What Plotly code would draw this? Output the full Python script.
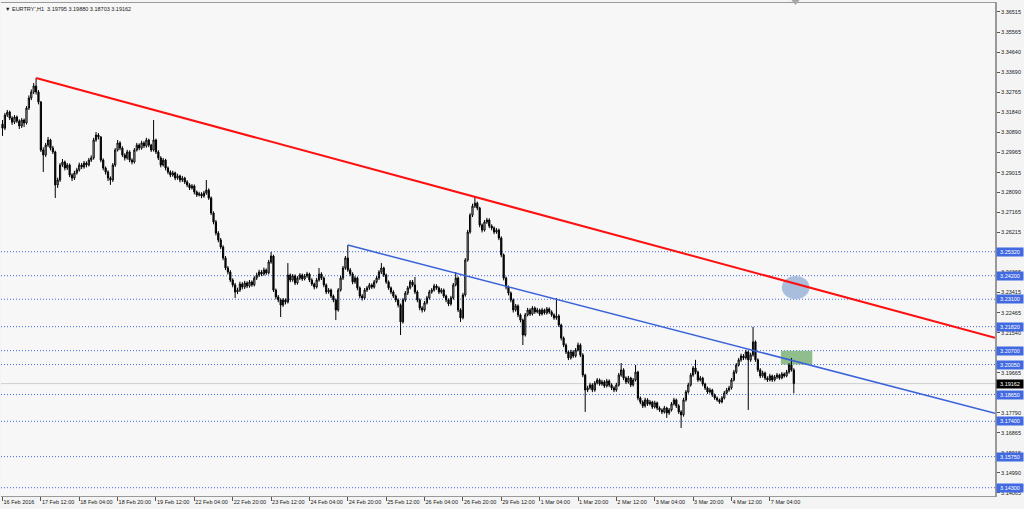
import plotly.graph_objects as go

# ---------------- data (EURTRY H1, bar index 0 = 16 Feb 2016 20:00) ----------------
opens = [3.3128, 3.3109, 3.3170, 3.3184, 3.3156, 3.3137, 3.3161, 3.3142, 3.3119, 3.3147,
 3.3133, 3.3203, 3.3250, 3.3278, 3.3306, 3.3278, 3.3231, 3.3007, 3.2984, 3.3030,
 3.3054, 3.3016, 3.2998, 3.2844, 3.2867, 3.2937, 3.2951, 3.2923, 3.2937, 3.2890,
 3.2876, 3.2900, 3.2914, 3.2937, 3.2928, 3.2946, 3.2937, 3.2960, 3.2970, 3.3054,
 3.3077, 3.3068, 3.2960, 3.2923, 3.2904, 3.2876, 3.2867, 3.2937, 3.3007, 3.3040,
 3.3016, 3.2984, 3.2970, 3.2998, 3.2960, 3.2951, 3.3007, 3.3030, 3.3016, 3.3040,
 3.3026, 3.3054, 3.3030, 3.3007, 3.3054, 3.2998, 3.2970, 3.2937, 3.2960, 3.2923,
 3.2904, 3.2890, 3.2900, 3.2876, 3.2886, 3.2867, 3.2876, 3.2858, 3.2844, 3.2830,
 3.2839, 3.2811, 3.2797, 3.2802, 3.2792, 3.2806, 3.2820, 3.2783, 3.2713, 3.2671,
 3.2619, 3.2587, 3.2554, 3.2503, 3.2456, 3.2437, 3.2400, 3.2377, 3.2344, 3.2353,
 3.2381, 3.2367, 3.2386, 3.2372, 3.2391, 3.2377, 3.2409, 3.2423, 3.2437, 3.2428,
 3.2447, 3.2433, 3.2484, 3.2512, 3.2353, 3.2321, 3.2307, 3.2283, 3.2307, 3.2297,
 3.2423, 3.2400, 3.2419, 3.2386, 3.2409, 3.2423, 3.2405, 3.2419, 3.2428, 3.2400,
 3.2381, 3.2367, 3.2400, 3.2428, 3.2409, 3.2377, 3.2344, 3.2353, 3.2325, 3.2307,
 3.2260, 3.2353, 3.2409, 3.2456, 3.2503, 3.2447, 3.2428, 3.2391, 3.2409, 3.2363,
 3.2325, 3.2316, 3.2353, 3.2363, 3.2377, 3.2367, 3.2391, 3.2409, 3.2437, 3.2456,
 3.2423, 3.2391, 3.2363, 3.2344, 3.2325, 3.2307, 3.2283, 3.2204, 3.2307, 3.2339,
 3.2363, 3.2391, 3.2377, 3.2344, 3.2307, 3.2269, 3.2260, 3.2293, 3.2316, 3.2344,
 3.2353, 3.2372, 3.2363, 3.2344, 3.2353, 3.2325, 3.2307, 3.2288, 3.2316, 3.2377,
 3.2409, 3.2260, 3.2223, 3.2330, 3.2493, 3.2624, 3.2703, 3.2745, 3.2759, 3.2736,
 3.2657, 3.2633, 3.2671, 3.2680, 3.2652, 3.2643, 3.2624, 3.2633, 3.2596, 3.2517,
 3.2409, 3.2367, 3.2339, 3.2307, 3.2260, 3.2279, 3.2237, 3.2213, 3.2143, 3.2237,
 3.2260, 3.2241, 3.2269, 3.2251, 3.2260, 3.2241, 3.2260, 3.2246, 3.2265, 3.2251,
 3.2237, 3.2223, 3.2232, 3.2190, 3.2129, 3.2096, 3.2064, 3.2036, 3.2064, 3.2045,
 3.2073, 3.2096, 3.2050, 3.1956, 3.1886, 3.1896, 3.1910, 3.1886, 3.1919, 3.1933,
 3.1914, 3.1924, 3.1905, 3.1928, 3.1910, 3.1896, 3.1886, 3.1910, 3.1956, 3.1980,
 3.1942, 3.1924, 3.1942, 3.1910, 3.1933, 3.1970, 3.1849, 3.1830, 3.1812, 3.1840,
 3.1821, 3.1830, 3.1807, 3.1826, 3.1802, 3.1793, 3.1784, 3.1802, 3.1779, 3.1793,
 3.1821, 3.1840, 3.1812, 3.1784, 3.1770, 3.1840, 3.1877, 3.1910, 3.1956, 3.1989,
 3.1970, 3.1933, 3.1942, 3.1914, 3.1896, 3.1877, 3.1886, 3.1863, 3.1849, 3.1840,
 3.1830, 3.1849, 3.1872, 3.1886, 3.1896, 3.1933, 3.1970, 3.2003, 3.2027, 3.2045,
 3.2036, 3.2064, 3.2027, 3.2050, 3.2111, 3.2027, 3.1980, 3.1952, 3.1966, 3.1942,
 3.1933, 3.1952, 3.1933, 3.1947, 3.1956, 3.1942, 3.1961, 3.1952, 3.1970, 3.2003,
 3.19795]

highs = [3.3147, 3.3180, 3.3194, 3.3191, 3.3165, 3.3170, 3.3168, 3.3150, 3.3156, 3.3154,
 3.3212, 3.3262, 3.3290, 3.3320, 3.3343, 3.3287, 3.3236, 3.3020, 3.3040, 3.3068,
 3.3060, 3.3026, 3.3004, 3.2878, 3.2946, 3.2965, 3.2958, 3.2946, 3.2944, 3.2898,
 3.2910, 3.2924, 3.2948, 3.2946, 3.2956, 3.2954, 3.2970, 3.2982, 3.3064, 3.3091,
 3.3086, 3.3072, 3.2968, 3.2930, 3.2912, 3.2884, 3.2946, 3.3016, 3.3054, 3.3048,
 3.3024, 3.2992, 3.3008, 3.3005, 3.2968, 3.3016, 3.3040, 3.3038, 3.3050, 3.3048,
 3.3064, 3.3060, 3.3036, 3.3147, 3.3060, 3.3006, 3.2978, 3.2970, 3.2966, 3.2930,
 3.2912, 3.2910, 3.2906, 3.2896, 3.2892, 3.2886, 3.2882, 3.2866, 3.2852, 3.2848,
 3.2846, 3.2818, 3.2812, 3.2810, 3.2816, 3.2867, 3.2828, 3.2790, 3.2720, 3.2680,
 3.2628, 3.2596, 3.2562, 3.2512, 3.2465, 3.2446, 3.2408, 3.2386, 3.2364, 3.2392,
 3.2390, 3.2396, 3.2394, 3.2400, 3.2398, 3.2418, 3.2434, 3.2448, 3.2446, 3.2458,
 3.2454, 3.2494, 3.2531, 3.2518, 3.2360, 3.2330, 3.2314, 3.2316, 3.2314, 3.2479,
 3.2430, 3.2428, 3.2426, 3.2418, 3.2432, 3.2430, 3.2428, 3.2438, 3.2434, 3.2408,
 3.2388, 3.2410, 3.2456, 3.2436, 3.2416, 3.2384, 3.2362, 3.2360, 3.2332, 3.2314,
 3.2362, 3.2420, 3.2466, 3.2512, 3.2563, 3.2456, 3.2436, 3.2418, 3.2416, 3.2370,
 3.2334, 3.2362, 3.2372, 3.2386, 3.2384, 3.2400, 3.2418, 3.2446, 3.2479, 3.2462,
 3.2430, 3.2398, 3.2370, 3.2352, 3.2332, 3.2314, 3.2290, 3.2316, 3.2348, 3.2372,
 3.2400, 3.2400, 3.2414, 3.2352, 3.2314, 3.2278, 3.2302, 3.2326, 3.2354, 3.2362,
 3.2382, 3.2380, 3.2370, 3.2362, 3.2360, 3.2332, 3.2314, 3.2326, 3.2386, 3.2437,
 3.2416, 3.2268, 3.2340, 3.2502, 3.2634, 3.2712, 3.2756, 3.2788, 3.2766, 3.2742,
 3.2664, 3.2680, 3.2690, 3.2688, 3.2660, 3.2650, 3.2642, 3.2640, 3.2604, 3.2524,
 3.2416, 3.2374, 3.2346, 3.2314, 3.2288, 3.2286, 3.2244, 3.2220, 3.2246, 3.2270,
 3.2268, 3.2278, 3.2276, 3.2270, 3.2266, 3.2270, 3.2266, 3.2274, 3.2272, 3.2258,
 3.2244, 3.2316, 3.2240, 3.2196, 3.2136, 3.2104, 3.2070, 3.2074, 3.2072, 3.2082,
 3.2108, 3.2104, 3.2058, 3.1962, 3.1906, 3.1920, 3.1918, 3.1928, 3.1942, 3.1940,
 3.1934, 3.1932, 3.1938, 3.1936, 3.1918, 3.1904, 3.1920, 3.1966, 3.2012, 3.1988,
 3.1950, 3.1952, 3.1948, 3.1942, 3.2003, 3.1976, 3.1856, 3.1838, 3.1850, 3.1848,
 3.1840, 3.1836, 3.1836, 3.1832, 3.1810, 3.1800, 3.1812, 3.1808, 3.1802, 3.1830,
 3.1850, 3.1846, 3.1820, 3.1792, 3.1850, 3.1886, 3.1920, 3.1966, 3.1998, 3.2027,
 3.1976, 3.1952, 3.1948, 3.1920, 3.1902, 3.1896, 3.1892, 3.1870, 3.1856, 3.1846,
 3.1858, 3.1882, 3.1896, 3.1906, 3.1942, 3.1980, 3.2012, 3.2036, 3.2056, 3.2054,
 3.2074, 3.2070, 3.2060, 3.2181, 3.2118, 3.2034, 3.1988, 3.1976, 3.1972, 3.1950,
 3.1962, 3.1958, 3.1956, 3.1966, 3.1962, 3.1970, 3.1968, 3.1980, 3.2012, 3.2036,
 3.19880]

lows = [3.3073, 3.3100, 3.3161, 3.3147, 3.3124, 3.3128, 3.3133, 3.3105, 3.3110, 3.3114,
 3.3126, 3.3194, 3.3240, 3.3268, 3.3266, 3.3220, 3.2998, 3.2904, 3.2975, 3.3021,
 3.3005, 3.2988, 3.2783, 3.2830, 3.2858, 3.2928, 3.2912, 3.2914, 3.2880, 3.2862,
 3.2867, 3.2892, 3.2906, 3.2918, 3.2920, 3.2926, 3.2930, 3.2951, 3.2962, 3.3045,
 3.3056, 3.2950, 3.2912, 3.2892, 3.2862, 3.2844, 3.2858, 3.2928, 3.3000, 3.3006,
 3.2975, 3.2958, 3.2962, 3.2950, 3.2940, 3.2944, 3.3000, 3.3006, 3.3008, 3.3016,
 3.3018, 3.3020, 3.2998, 3.3000, 3.2988, 3.2960, 3.2926, 3.2930, 3.2912, 3.2894,
 3.2880, 3.2882, 3.2866, 3.2868, 3.2856, 3.2858, 3.2848, 3.2834, 3.2820, 3.2822,
 3.2800, 3.2788, 3.2790, 3.2782, 3.2784, 3.2798, 3.2774, 3.2703, 3.2660, 3.2608,
 3.2576, 3.2544, 3.2492, 3.2446, 3.2426, 3.2390, 3.2366, 3.2316, 3.2334, 3.2344,
 3.2356, 3.2358, 3.2362, 3.2364, 3.2368, 3.2370, 3.2400, 3.2414, 3.2418, 3.2420,
 3.2424, 3.2426, 3.2476, 3.2344, 3.2310, 3.2296, 3.2227, 3.2274, 3.2286, 3.2290,
 3.2390, 3.2392, 3.2376, 3.2378, 3.2400, 3.2396, 3.2398, 3.2410, 3.2390, 3.2372,
 3.2356, 3.2360, 3.2392, 3.2400, 3.2366, 3.2334, 3.2336, 3.2316, 3.2296, 3.2213,
 3.2252, 3.2346, 3.2400, 3.2448, 3.2438, 3.2418, 3.2380, 3.2382, 3.2352, 3.2314,
 3.2304, 3.2308, 3.2344, 3.2354, 3.2358, 3.2360, 3.2384, 3.2400, 3.2428, 3.2414,
 3.2382, 3.2354, 3.2334, 3.2316, 3.2296, 3.2272, 3.2143, 3.2196, 3.2298, 3.2330,
 3.2356, 3.2368, 3.2334, 3.2296, 3.2258, 3.2248, 3.2252, 3.2286, 3.2308, 3.2336,
 3.2346, 3.2354, 3.2334, 3.2336, 3.2316, 3.2296, 3.2278, 3.2280, 3.2308, 3.2370,
 3.2250, 3.2204, 3.2216, 3.2322, 3.2486, 3.2616, 3.2694, 3.2736, 3.2726, 3.2646,
 3.2622, 3.2626, 3.2662, 3.2642, 3.2632, 3.2614, 3.2616, 3.2586, 3.2506, 3.2398,
 3.2356, 3.2328, 3.2296, 3.2248, 3.2252, 3.2226, 3.2202, 3.2096, 3.2136, 3.2230,
 3.2232, 3.2234, 3.2242, 3.2244, 3.2232, 3.2234, 3.2238, 3.2238, 3.2242, 3.2228,
 3.2214, 3.2214, 3.2180, 3.2118, 3.2086, 3.2054, 3.2026, 3.2028, 3.2036, 3.2038,
 3.2066, 3.2040, 3.1946, 3.1784, 3.1876, 3.1888, 3.1876, 3.1878, 3.1912, 3.1906,
 3.1906, 3.1896, 3.1898, 3.1900, 3.1886, 3.1876, 3.1878, 3.1902, 3.1948, 3.1932,
 3.1914, 3.1916, 3.1900, 3.1902, 3.1926, 3.1838, 3.1820, 3.1802, 3.1804, 3.1812,
 3.1814, 3.1798, 3.1800, 3.1792, 3.1784, 3.1774, 3.1776, 3.1756, 3.1770, 3.1786,
 3.1814, 3.1802, 3.1774, 3.1709, 3.1762, 3.1832, 3.1870, 3.1902, 3.1948, 3.1960,
 3.1924, 3.1926, 3.1904, 3.1886, 3.1868, 3.1870, 3.1854, 3.1840, 3.1832, 3.1822,
 3.1824, 3.1842, 3.1866, 3.1878, 3.1888, 3.1926, 3.1962, 3.1996, 3.2018, 3.2026,
 3.2028, 3.1793, 3.2018, 3.2042, 3.2018, 3.1970, 3.1942, 3.1944, 3.1932, 3.1924,
 3.1926, 3.1924, 3.1926, 3.1938, 3.1934, 3.1936, 3.1944, 3.1946, 3.1962, 3.1972,
 3.18703]

closes = [3.3109, 3.3170, 3.3184, 3.3156, 3.3137, 3.3161, 3.3142, 3.3119, 3.3147, 3.3133,
 3.3203, 3.3250, 3.3278, 3.3306, 3.3278, 3.3231, 3.3007, 3.2984, 3.3030, 3.3054,
 3.3016, 3.2998, 3.2844, 3.2867, 3.2937, 3.2951, 3.2923, 3.2937, 3.2890, 3.2876,
 3.2900, 3.2914, 3.2937, 3.2928, 3.2946, 3.2937, 3.2960, 3.2970, 3.3054, 3.3077,
 3.3068, 3.2960, 3.2923, 3.2904, 3.2876, 3.2867, 3.2937, 3.3007, 3.3040, 3.3016,
 3.2984, 3.2970, 3.2998, 3.2960, 3.2951, 3.3007, 3.3030, 3.3016, 3.3040, 3.3026,
 3.3054, 3.3030, 3.3007, 3.3054, 3.2998, 3.2970, 3.2937, 3.2960, 3.2923, 3.2904,
 3.2890, 3.2900, 3.2876, 3.2886, 3.2867, 3.2876, 3.2858, 3.2844, 3.2830, 3.2839,
 3.2811, 3.2797, 3.2802, 3.2792, 3.2806, 3.2820, 3.2783, 3.2713, 3.2671, 3.2619,
 3.2587, 3.2554, 3.2503, 3.2456, 3.2437, 3.2400, 3.2377, 3.2344, 3.2353, 3.2381,
 3.2367, 3.2386, 3.2372, 3.2391, 3.2377, 3.2409, 3.2423, 3.2437, 3.2428, 3.2447,
 3.2433, 3.2484, 3.2512, 3.2353, 3.2321, 3.2307, 3.2283, 3.2307, 3.2297, 3.2423,
 3.2400, 3.2419, 3.2386, 3.2409, 3.2423, 3.2405, 3.2419, 3.2428, 3.2400, 3.2381,
 3.2367, 3.2400, 3.2428, 3.2409, 3.2377, 3.2344, 3.2353, 3.2325, 3.2307, 3.2260,
 3.2353, 3.2409, 3.2456, 3.2503, 3.2447, 3.2428, 3.2391, 3.2409, 3.2363, 3.2325,
 3.2316, 3.2353, 3.2363, 3.2377, 3.2367, 3.2391, 3.2409, 3.2437, 3.2456, 3.2423,
 3.2391, 3.2363, 3.2344, 3.2325, 3.2307, 3.2283, 3.2204, 3.2307, 3.2339, 3.2363,
 3.2391, 3.2377, 3.2344, 3.2307, 3.2269, 3.2260, 3.2293, 3.2316, 3.2344, 3.2353,
 3.2372, 3.2363, 3.2344, 3.2353, 3.2325, 3.2307, 3.2288, 3.2316, 3.2377, 3.2409,
 3.2260, 3.2223, 3.2330, 3.2493, 3.2624, 3.2703, 3.2745, 3.2759, 3.2736, 3.2657,
 3.2633, 3.2671, 3.2680, 3.2652, 3.2643, 3.2624, 3.2633, 3.2596, 3.2517, 3.2409,
 3.2367, 3.2339, 3.2307, 3.2260, 3.2279, 3.2237, 3.2213, 3.2143, 3.2237, 3.2260,
 3.2241, 3.2269, 3.2251, 3.2260, 3.2241, 3.2260, 3.2246, 3.2265, 3.2251, 3.2237,
 3.2223, 3.2232, 3.2190, 3.2129, 3.2096, 3.2064, 3.2036, 3.2064, 3.2045, 3.2073,
 3.2096, 3.2050, 3.1956, 3.1886, 3.1896, 3.1910, 3.1886, 3.1919, 3.1933, 3.1914,
 3.1924, 3.1905, 3.1928, 3.1910, 3.1896, 3.1886, 3.1910, 3.1956, 3.1980, 3.1942,
 3.1924, 3.1942, 3.1910, 3.1933, 3.1970, 3.1849, 3.1830, 3.1812, 3.1840, 3.1821,
 3.1830, 3.1807, 3.1826, 3.1802, 3.1793, 3.1784, 3.1802, 3.1779, 3.1793, 3.1821,
 3.1840, 3.1812, 3.1784, 3.1770, 3.1840, 3.1877, 3.1910, 3.1956, 3.1989, 3.1970,
 3.1933, 3.1942, 3.1914, 3.1896, 3.1877, 3.1886, 3.1863, 3.1849, 3.1840, 3.1830,
 3.1849, 3.1872, 3.1886, 3.1896, 3.1933, 3.1970, 3.2003, 3.2027, 3.2045, 3.2036,
 3.2064, 3.2027, 3.2050, 3.2111, 3.2027, 3.1980, 3.1952, 3.1966, 3.1942, 3.1933,
 3.1952, 3.1933, 3.1947, 3.1956, 3.1942, 3.1961, 3.1952, 3.1970, 3.2003, 3.19795,
 3.19162]

# time-axis labels, one every 16 hourly bars
bars_per_label = 16
x_tick_labels = ["16 Feb 2016", "17 Feb 12:00", "18 Feb 04:00", "18 Feb 20:00", "19 Feb 12:00",
                 "22 Feb 04:00", "22 Feb 20:00", "23 Feb 12:00", "24 Feb 04:00", "24 Feb 20:00",
                 "25 Feb 12:00", "26 Feb 04:00", "26 Feb 20:00", "29 Feb 12:00", "1 Mar 04:00",
                 "1 Mar 20:00", "2 Mar 12:00", "3 Mar 04:00", "3 Mar 20:00", "4 Mar 12:00",
                 "7 Mar 04:00"]

# price-scale labels
y_tick_vals = [3.36515, 3.35565, 3.34640, 3.33690, 3.32765, 3.31840, 3.30890, 3.29965,
               3.29015, 3.28090, 3.27165, 3.26215, 3.25290, 3.24365, 3.23415, 3.22465,
               3.21540, 3.20590, 3.19665, 3.18715, 3.17790, 3.16865, 3.15915, 3.14990, 3.14065]

# horizontal support/resistance levels
level_prices = [3.25320, 3.24200, 3.23100, 3.21820, 3.20700, 3.20050,
                3.18650, 3.17400, 3.15750, 3.14300]
last_price = 3.19162

# trend lines: anchors (bar index, price)
red_trend = [(14, 3.3343), (197, 3.2788)]
blue_trend = [(144, 3.2563), (231, 3.2310)]

# header text
symbol = "EURTRY',H1"
last_bar_ohlc = ["3.19795", "3.19880", "3.18703", "3.19162"]

# ---------------- figure ----------------
X_MIN, X_MAX = -0.63, 413.9
Y_MIN, Y_MAX = 3.13912, 3.36935
FONT = "Liberation Sans"
LEVEL_BLUE = "#4169e1"

bar_x = list(range(len(closes)))

fig = go.Figure()

fig.add_trace(go.Candlestick(
    x=bar_x, open=opens, high=highs, low=lows, close=closes,
    increasing=dict(line=dict(color="#000000", width=1), fillcolor="#ffffff"),
    decreasing=dict(line=dict(color="#000000", width=1), fillcolor="#000000"),
    whiskerwidth=0, hoverinfo="skip", showlegend=False,
))


def extend(anchors, x_end):
    (x0, y0), (x1, y1) = anchors
    slope = (y1 - y0) / (x1 - x0)
    return [x0, x_end], [y0, y0 + slope * (x_end - x0)]


rx, ry = extend(red_trend, X_MAX)
fig.add_trace(go.Scatter(x=rx, y=ry, mode="lines", line=dict(color="#ff1010", width=2),
                         hoverinfo="skip", showlegend=False))
bx, by = extend(blue_trend, X_MAX)
fig.add_trace(go.Scatter(x=bx, y=by, mode="lines", line=dict(color="#3a62d9", width=1.5),
                         hoverinfo="skip", showlegend=False))

shapes = []
# current-price line
shapes.append(dict(type="line", xref="paper", x0=0, x1=1, yref="y", y0=last_price, y1=last_price,
                   line=dict(color="#cfcfcf", width=1), layer="below"))
for p in level_prices:
    shapes.append(dict(type="line", xref="paper", x0=0, x1=1, yref="y", y0=p, y1=p,
                       line=dict(color=LEVEL_BLUE, width=1, dash="1px,2px"), layer="below"))
# highlighted target ellipse and green zone
shapes.append(dict(type="circle", xref="x", yref="y", x0=325.0, x1=336.5, y0=3.2310, y1=3.2419,
                   fillcolor="#a9bedd", line=dict(width=0), layer="below"))
shapes.append(dict(type="rect", xref="x", yref="y", x0=324.6, x1=337.7, y0=3.2005, y1=3.2070,
                   fillcolor="#8fbd8b", line=dict(width=0), layer="below"))
# chart-shift marker
shapes.append(dict(type="path", xref="x", yref="paper",
                   path="M 329.0 1.006 L 332.4 1.006 L 330.7 0.996 Z",
                   fillcolor="#a8a8a8", line=dict(width=0)))

annotations = []
for p in level_prices:
    annotations.append(dict(xref="paper", x=1, xanchor="left", xshift=1, yref="y", y=p,
                            yanchor="middle", text=f"{p:.5f}", showarrow=False,
                            font=dict(family=FONT, size=5.5, color="#ffffff"),
                            bgcolor=LEVEL_BLUE, borderpad=1, width=24, height=6))
annotations.append(dict(xref="paper", x=1, xanchor="left", xshift=1, yref="y", y=last_price,
                        yanchor="middle", text=f"{last_price:.5f}", showarrow=False,
                        font=dict(family=FONT, size=5.5, color="#ffffff"),
                        bgcolor="#000000", borderpad=1, width=24, height=6))
annotations.append(dict(xref="paper", x=0, xanchor="left", xshift=2, yref="paper", y=1,
                        yanchor="top", yshift=-1, showarrow=False,
                        text="\u25bc " + symbol + "  " + " ".join(last_bar_ohlc),
                        font=dict(family=FONT, size=5.5, color="#202020")))

fig.update_layout(
    width=1024, height=509,
    margin=dict(l=1, r=29, t=3, b=13),
    paper_bgcolor="#f4f4f4", plot_bgcolor="#f7f7f7",
    shapes=shapes, annotations=annotations,
    showlegend=False,
    xaxis=dict(range=[X_MIN, X_MAX], rangeslider=dict(visible=False),
               tickvals=[k * bars_per_label for k in range(len(x_tick_labels))],
               ticktext=x_tick_labels, tickangle=0, ticks="outside", ticklen=4, tickcolor="#555",
               ticklabelposition="outside right",
               tickfont=dict(family=FONT, size=5.5, color="#202020"),
               showgrid=False, zeroline=False, showline=True, mirror=True,
               linecolor="#9a9a9a", linewidth=1, fixedrange=True, automargin=False),
    yaxis=dict(range=[Y_MIN, Y_MAX], side="right",
               tickvals=y_tick_vals, ticktext=[f"{v:.5f}" for v in y_tick_vals],
               ticks="outside", ticklen=3, tickcolor="#555",
               tickfont=dict(family=FONT, size=5.5, color="#202020"),
               showgrid=False, zeroline=False, showline=True,
               linecolor="#9a9a9a", linewidth=2, fixedrange=True, automargin=False),
)

fig.write_html("out.html", config={"displayModeBar": False},
               post_script="document.body.style.margin='0';document.body.style.overflow='hidden';")
